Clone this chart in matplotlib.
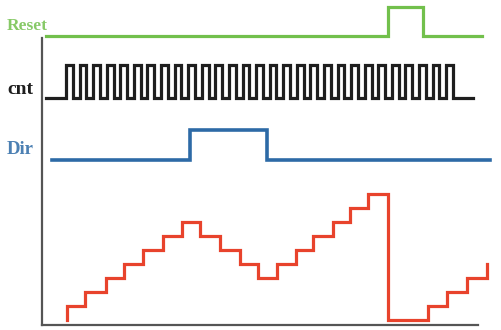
import numpy as np
import matplotlib
matplotlib.use("Agg")
import matplotlib.pyplot as plt

# ---------------- data (time in arbitrary units) ----------------
reset_times = [4, 346, 381, 440]
reset_levels = [0, 1, 0, 0]

dir_times = [10, 148, 225, 448]
dir_levels = [0, 1, 0, 0]

cnt_start, cnt_first_edge, cnt_last_edge, cnt_end = 4, 24, 411, 431
cnt_levels = [0,
              1, 0, 1, 0, 1, 0, 1, 0, 1, 0, 1, 0, 1, 0, 1, 0, 1, 0, 1, 0,
              1, 0, 1, 0, 1, 0, 1, 0, 1, 0, 1, 0, 1, 0, 1, 0, 1, 0, 1, 0,
              1, 0, 1, 0, 1, 0, 1, 0, 1, 0, 1, 0, 1, 0, 1, 0, 1, 0]

counter_edges = [25, 43, 64, 82, 101, 121, 140, 158, 178, 198, 216, 235,
                 254, 271, 291, 308, 326, 346, 386, 405, 425, 445]
counter_levels = [1, 2, 3, 4, 5, 6, 7, 6, 5, 4, 3, 4, 5, 6, 7, 8, 9,
                  0, 1, 2, 3, 4]

labels = ["Reset", "cnt", "Dir"]

# ---------------- layout / style ----------------
W, H = 502, 330
fig = plt.figure(figsize=(W / 100, H / 100), dpi=100)
ax = fig.add_axes([42 / W, 5 / H, 436 / W, 287 / H])
ax.set_xlim(0, 436)
ax.set_ylim(-0.36, 20.14)
for s in ["top", "right"]:
    ax.spines[s].set_visible(False)
for s in ["left", "bottom"]:
    ax.spines[s].set_color("#555555")
    ax.spines[s].set_linewidth(1.6)
ax.set_xticks([])
ax.set_yticks([])

lw = 2.3
green, black, blue, red = "#72c04c", "#1e1e1e", "#2d6aa6", "#e8432c"

# Reset signal
r_off, r_amp = 20.29, 2.07
ax.step(reset_times, [r_off + r_amp * v for v in reset_levels], where="post",
        color=green, lw=lw, clip_on=False, solid_joinstyle="miter")

# cnt clock
n_edges = len(cnt_levels) - 1
edge_t = np.linspace(cnt_first_edge, cnt_last_edge, n_edges)
t_cnt = np.concatenate([[cnt_start], edge_t, [cnt_end]])
c_off, c_amp = 15.86, 2.36
y_cnt = [c_off + c_amp * v for v in cnt_levels] + [c_off + c_amp * cnt_levels[-1]]
ax.step(t_cnt, y_cnt, where="post", color=black, lw=lw, clip_on=False,
        solid_joinstyle="miter")

# Dir signal
d_off, d_amp = 11.43, 2.14
ax.step(dir_times, [d_off + d_amp * v for v in dir_levels], where="post",
        color=blue, lw=2.6, clip_on=False, solid_joinstyle="miter")

# Counter staircase
ct = [counter_edges[0]] + counter_edges
cl = [0] + counter_levels
ax.step(ct, cl, where="post", color=red, lw=lw, clip_on=False,
        solid_joinstyle="miter")

# Labels
fam = ["Liberation Serif", "DejaVu Serif"]
fig.text(7 / W, 1 - 26 / H, labels[0], color=green, fontsize=12.5,
         fontweight="bold", family=fam, va="center", ha="left", alpha=0.85)
fig.text(7 / W, 1 - 90 / H, labels[1], color=black, fontsize=14,
         fontweight="bold", family=fam, va="center", ha="left")
fig.text(7 / W, 1 - 150 / H, labels[2], color=blue, fontsize=13.5,
         fontweight="bold", family=fam, va="center", ha="left", alpha=0.85)

fig.savefig("out.png", dpi=100)
